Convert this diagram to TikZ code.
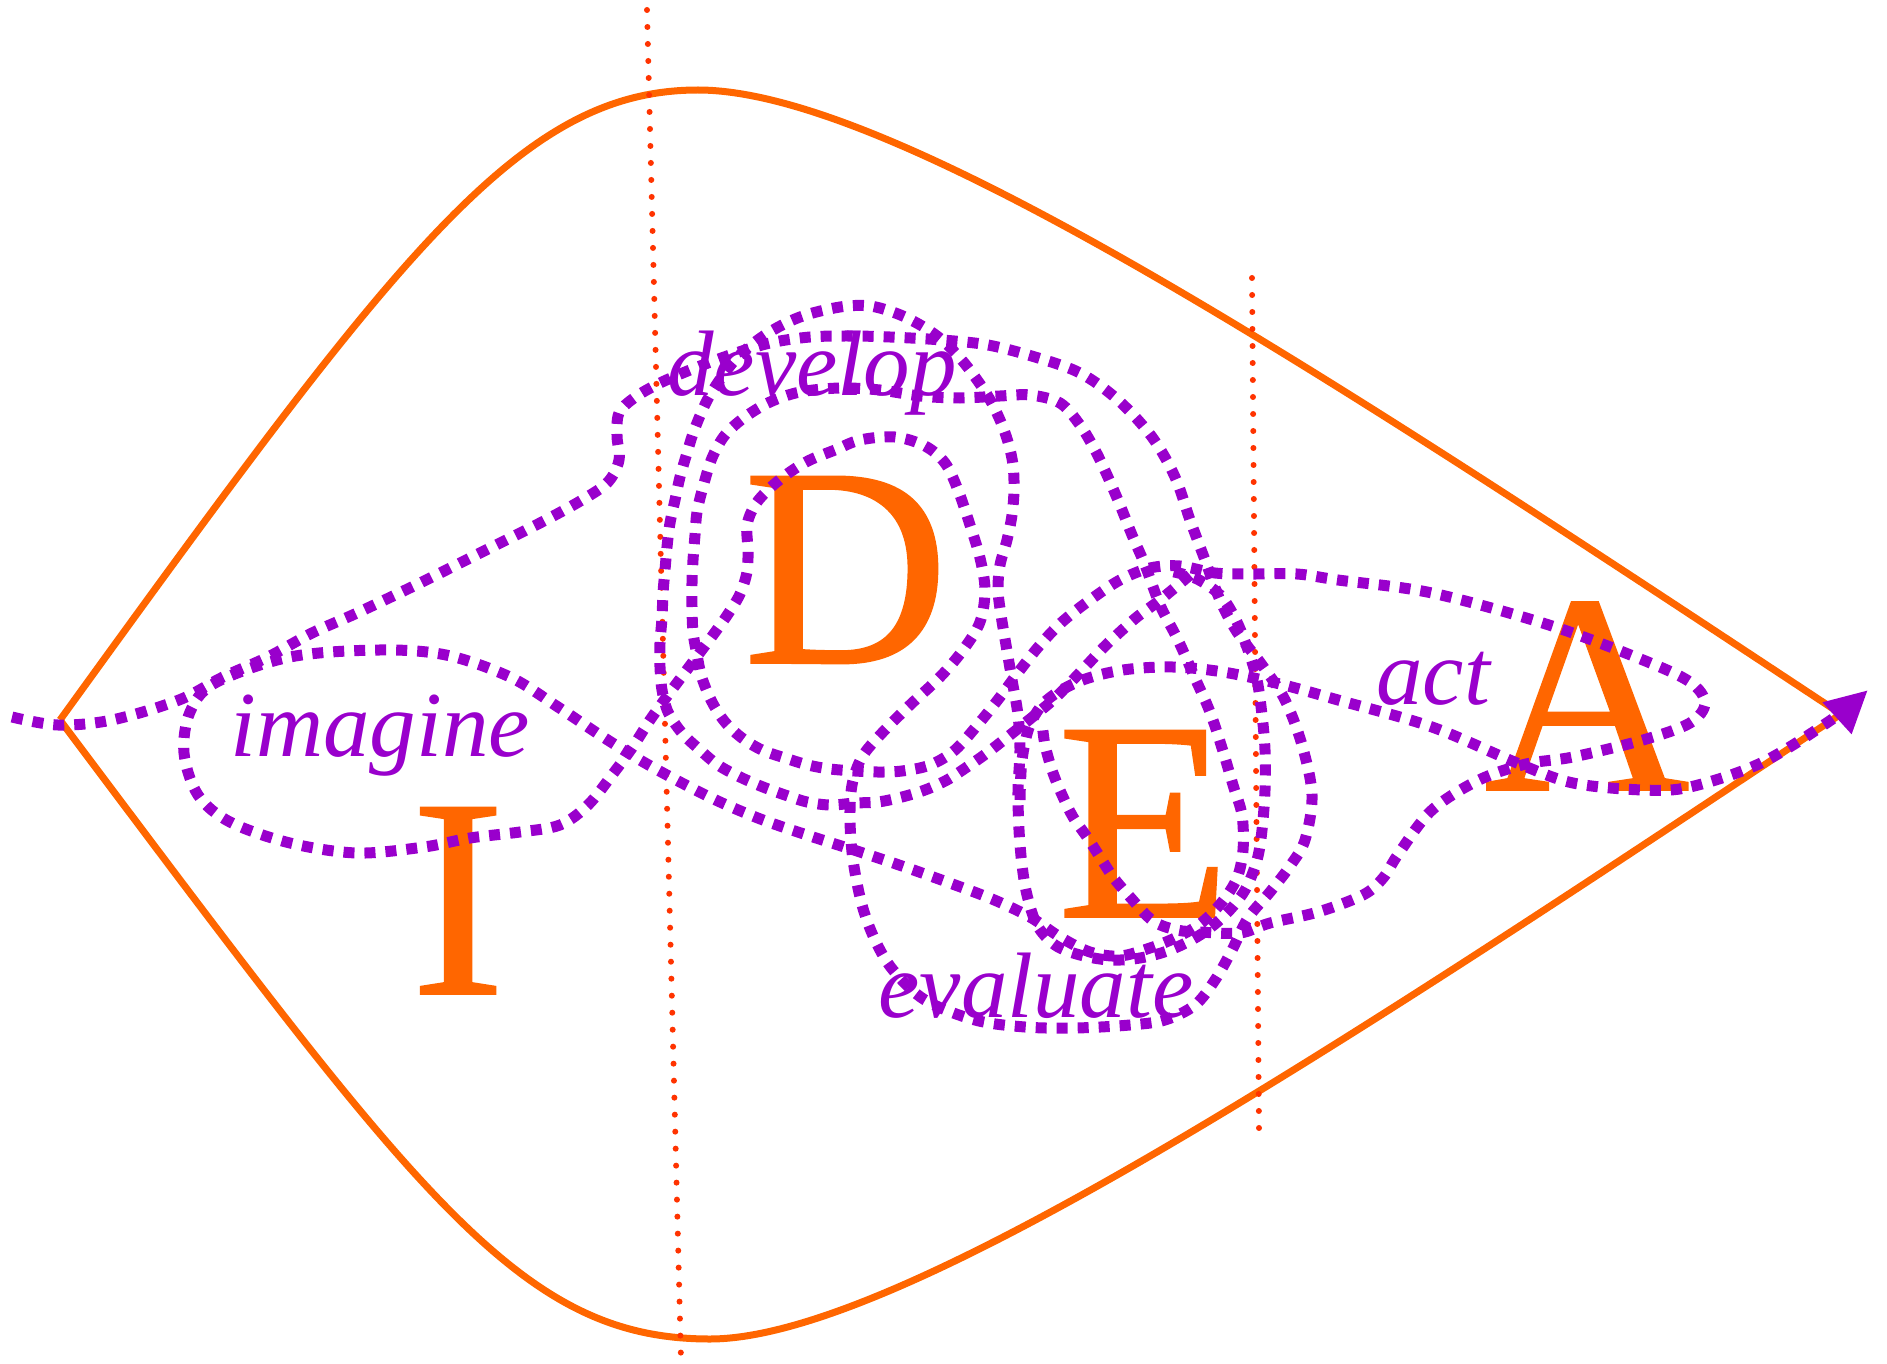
\documentclass[tikz,border=0pt]{standalone}
\usepackage{fontspec}
\setmainfont{Liberation Serif}
\newfontfamily\letterfont{Liberation Serif}[FakeBold=0.6]
\usetikzlibrary{arrows.meta}
\definecolor{lensorange}{HTML}{FF6600}
\definecolor{redline}{HTML}{FF3300}
\definecolor{purp}{HTML}{9900CC}
\tikzset{
  lens/.style={draw=lensorange, line width=7pt, line join=round},
  reddots/.style={draw=redline, line width=6pt, line cap=round, dash pattern=on 0pt off 17pt},
  pdots/.style={draw=purp, line width=11pt, dash pattern=on 11pt off 10pt},
  bigletter/.style={text=lensorange, inner sep=0pt, anchor=base, font=\letterfont\fontsize{285}{285}\selectfont},
  word/.style={text=purp, inner sep=0pt, anchor=base, font=\itshape\fontsize{93}{93}\selectfont},
}
\begin{document}
\begin{tikzpicture}[x=1pt,y=-1pt]
\useasboundingbox (0,0) rectangle (1887,1364);
% lens
\coordinate (lensL) at (60,720);
\coordinate (lensT) at (698,90);
\coordinate (lensB) at (710,1339);
\coordinate (lensR) at (1841,714);
\draw[lens] (lensL) .. controls (400,250) and (520,90) .. (lensT)
  .. controls (900,90) and (1350,390) .. (lensR);
\draw[lens] (lensL) .. controls (420,1200) and (520,1339) .. (lensB)
  .. controls (900,1339) and (1350,1040) .. (lensR);
% red dotted lines
\coordinate (r1a) at (647,10); \coordinate (r1b) at (681,1360);
\coordinate (r2a) at (1252,278); \coordinate (r2b) at (1259,1129);
\draw[reddots] (r1a) -- (r1b);
\draw[reddots] (r2a) -- (r2b);
% letters
\node[bigletter] (I) at (458,994) {I};
\node[bigletter] (D) at (846,663) {D};
\node[bigletter] (E) at (1144,917) {E};
\node[bigletter] (A) at (1587,790) {A};
% main purple path
\draw[pdots] plot[smooth, tension=0.55] coordinates {
(12,717) (58,725) (112,720) (179,700) (223,677) (268,657) (312,633) (357,613) (420,583) (480,553) (540,523) (582,500) (608,482) (619,460) (617,436) (619,413) (634,398) (658,384) (690,370) (730,355) (770,343) (810,337) (850,336) (890,337) (942,340) (988,345) (1035,357) (1080,373) (1118,400) (1152,437) (1175,477) (1190,520) (1205,560) (1220,600) (1237,632) (1262,665) (1285,700) (1302,745) (1312,795) (1305,840) (1290,866) (1270,892) (1248,918) (1232,950) (1215,980) (1195,1005) (1165,1020) (1130,1025) (1075,1028) (1025,1027) (975,1020) (925,1000) (893,970) (875,940) (862,905) (853,860) (850,820) (852,785) (862,757) (882,733) (910,705) (940,677) (963,650) (980,622) (985,590) (980,558) (970,525) (958,490) (945,463) (925,446) (895,437) (860,440) (835,450) (810,460) (790,472) (770,488) (755,505) (747,525) (748,550) (747,572) (740,594) (728,614) (713,635) (698,655) (683,675) (668,695) (650,720) (632,748) (612,775) (588,805) (560,825) (520,832) (470,838) (424,847) (357,853) (290,843) (230,822) (198,795) (184,753) (190,712) (215,683) (290,657) (379,650) (446,655) (510,677) (558,707) (600,735) (640,760) (680,782) (720,802) (763,820) (810,836) (857,851) (902,866) (947,882) (992,899) (1030,917) (1060,937) (1090,952) (1120,956) (1150,948) (1175,938) (1200,924) (1222,902) (1237,878) (1243,850) (1242,815) (1233,785) (1222,748) (1210,712) (1195,678) (1178,640) (1160,605) (1145,565) (1132,535) (1120,505) (1107,475) (1095,450) (1080,425) (1060,403) (1030,395) (1000,396) (960,398) (920,396) (880,390) (840,388) (800,392) (770,402) (745,417) (725,435) (712,458) (703,487) (697,512) (695,535) (693,560) (692,583) (692,607) (693,632) (697,655) (702,678) (712,702) (725,722) (742,738) (762,750) (785,758) (808,765) (830,769) (855,771) (878,772) (902,771) (930,765) (955,750) (980,722) (1000,697) (1020,670) (1040,645) (1062,622) (1090,600) (1120,580) (1150,568) (1180,566) (1215,573) (1250,574) (1297,574) (1338,580) (1432,593) (1549,625) (1643,660) (1690,682) (1705,703) (1690,723) (1643,740) (1573,757) (1526,764) (1479,780) (1432,810) (1399,853) (1383,878) (1363,895) (1318,912) (1270,923) (1240,933) (1200,932) (1177,930) (1153,921) (1130,897) (1113,877) (1100,857) (1087,837) (1073,817) (1063,797) (1053,773) (1045,745) (1042,722)};
% second loop: around D (outer) and E
\draw[pdots] plot[smooth, tension=0.55] coordinates {
(1190,575) (1160,600) (1137,617) (1120,632) (1103,648) (1087,665) (1070,683) (1053,700) (1035,715) (1010,735) (987,753) (967,767) (947,780) (925,790) (902,797) (878,802) (855,803) (830,805) (807,802) (785,795) (763,787) (740,777) (718,765) (700,750) (682,733) (668,712) (662,690) (660,667) (660,643) (662,618) (663,593) (665,570) (667,547) (670,523) (675,500) (680,477) (687,453) (695,428) (710,395) (735,360) (765,335) (800,317) (840,307) (870,306) (898,314) (922,326) (942,340) (960,358) (975,377) (989,398) (1000,420) (1008,442) (1013,465) (1014,490) (1012,515) (1007,540) (1000,565) (998,590) (1001,615) (1006,645) (1012,680) (1018,715) (1020,750) (1018,790) (1019,830) (1022,865) (1027,895) (1037,925) (1055,945) (1080,955) (1110,960) (1140,958) (1170,950) (1200,935) (1225,915) (1245,890) (1257,860) (1262,830) (1265,790) (1265,750) (1262,715) (1257,680) (1248,650) (1236,620) (1220,595) (1195,578) (1165,570)};
% final stroke to the arrow
\draw[pdots, -{Triangle[length=42pt, width=40pt]}] plot[smooth, tension=0.55] coordinates {
(1020,800) (1022,760) (1030,725) (1047,700) (1080,681) (1123,670) (1173,667) (1223,672) (1280,684) (1338,700) (1432,727) (1517,763) (1573,783) (1643,790) (1690,787) (1761,763) (1831,720) (1868,690)};
% words
\node[word] (imagine) at (380,756) {imagine};
\node[word] (develop) at (812,395) {develop};
\node[word] (evaluate) at (1036,1017) {evaluate};
\node[word] (act) at (1433,704) {act};
\end{tikzpicture}
\end{document}
